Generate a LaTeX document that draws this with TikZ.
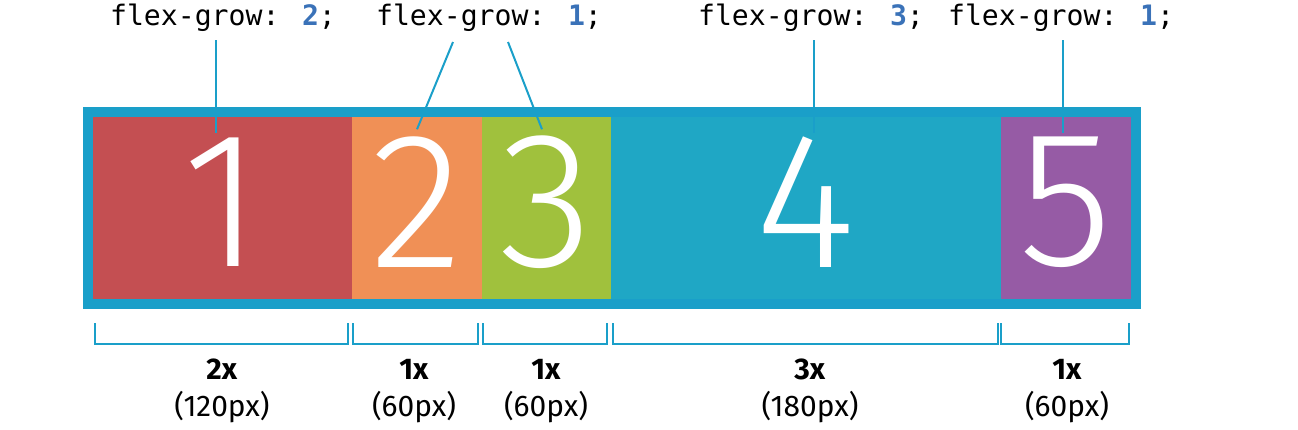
\documentclass[tikz,border=0pt]{standalone}
\usepackage{fontspec}
\setmainfont{Fira Sans}
\newfontfamily\codefont{DejaVu Sans Mono}
\newfontfamily\numfont{Fira Sans Light}
\usepackage{tikz}
\definecolor{boxblue}{HTML}{1A9FC9}
\definecolor{cred}{HTML}{C44F52}
\definecolor{corange}{HTML}{F09056}
\definecolor{cgreen}{HTML}{A0C13D}
\definecolor{ccyan}{HTML}{1FA7C5}
\definecolor{cpurple}{HTML}{965BA5}
\definecolor{numblue}{HTML}{3A72B8}
\newcommand{\grow}[1]{flex-grow: \textcolor{numblue}{\textbf{#1}};}

\begin{document}
\begin{tikzpicture}[x=0.01cm, y=-0.01cm,
  item/.style={rectangle, inner sep=0pt, minimum height=1.82cm, text=white,
    font=\numfont\fontsize{55}{60}\selectfont},
  code/.style={font=\codefont\fontsize{8}{9}\selectfont, inner sep=0pt},
  size/.style={font=\fontsize{8.5}{10.4}\selectfont, align=center, inner sep=0pt},
  lead/.style={draw=boxblue, line width=0.02cm},
  brace/.style={draw=boxblue, line width=0.02cm}]
  \useasboundingbox (0,0) rectangle (1298,429);
  % flex items
  \node (I1) [item, fill=cred, minimum width=2.59cm] at (222.5,208) {};
  \node (I2) [item, fill=corange, minimum width=1.30cm] at (417,208) {};
  \node (I3) [item, fill=cgreen, minimum width=1.29cm] at (546.5,208) {};
  \node (I4) [item, fill=ccyan, minimum width=3.90cm] at (806,208) {};
  \node (I5) [item, fill=cpurple, minimum width=1.30cm] at (1066,208) {};
  \node (N1) [item] at (222,202) {1};
  \node (N2) [item] at (417,202) {2};
  \node (N3) [item] at (546,202) {3};
  \node (N4) [item] at (806,202) {4};
  \node (N5) [item] at (1066,202) {5};
  % container
  \draw[boxblue, line width=0.1cm] (88,112) rectangle (1136,304);
  % grow labels
  \node (G1) [code] at (223,18) {\grow{2}};
  \node (G2) [code] at (489,18) {\grow{1}};
  \node (G3) [code] at (811,18) {\grow{3}};
  \node (G4) [code] at (1061,18) {\grow{1}};
  \coordinate (G2a) at (453,42);
  \coordinate (G2b) at (508,42);
  \draw[lead] (216,40) -- (216,133);
  \draw[lead] (G2a) -- ([yshift=-0.13cm]I2.north);
  \draw[lead] (G2b) -- ([xshift=-0.045cm, yshift=-0.13cm]I3.north);
  \draw[lead] (814,40) -- (814,133);
  \draw[lead] (1063,40) -- (1063,133);
  % widths
  \draw[brace] (95,323) -- (95,344) -- (348,344) -- (348,323);
  \draw[brace] (353,323) -- (353,344) -- (478,344) -- (478,323);
  \draw[brace] (483,323) -- (483,344) -- (607,344) -- (607,323);
  \draw[brace] (613,323) -- (613,344) -- (998,344) -- (998,323);
  \draw[brace] (1001,323) -- (1001,344) -- (1129,344) -- (1129,323);
  \node (S1) [size] at (222,391) {\textbf{2x}\\(120px)};
  \node (S2) [size] at (414,391) {\textbf{1x}\\(60px)};
  \node (S3) [size] at (546,391) {\textbf{1x}\\(60px)};
  \node (S4) [size] at (810,391) {\textbf{3x}\\(180px)};
  \node (S5) [size] at (1067,391) {\textbf{1x}\\(60px)};
\end{tikzpicture}
\end{document}
